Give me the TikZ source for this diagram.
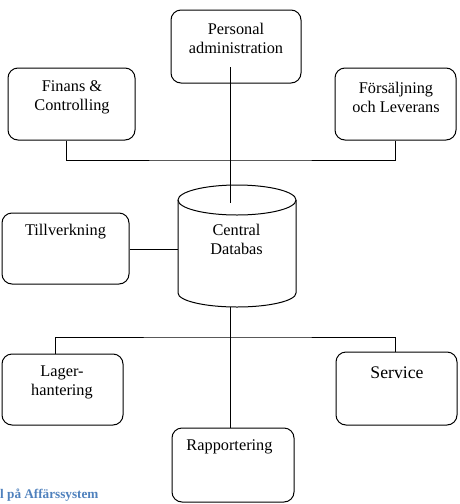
\documentclass[tikz,border=0pt]{standalone}
\usepackage{fontspec}
\setmainfont{Liberation Serif}
\definecolor{capblue}{RGB}{79,129,189}
\begin{document}
\begin{tikzpicture}[x=1pt,y=-1pt,
  box/.style={draw, line width=1pt, rounded corners=10pt, inner sep=0pt},
  lbl/.style={inner sep=0pt, align=center, font=\fontsize{16.3}{19}\selectfont},
  wire/.style={line width=1pt}]
\useasboundingbox (0,0) rectangle (460,504);
% boxes
\node[box, minimum width=130pt, minimum height=73pt] (pers) at (236,46.5) {};
\node[box, minimum width=127pt, minimum height=72pt] (fin) at (71.5,104) {};
\node[box, minimum width=121pt, minimum height=72pt] (fors) at (395.5,104) {};
\node[box, minimum width=127pt, minimum height=71pt] (till) at (65.5,248.5) {};
\node[box, minimum width=121pt, minimum height=71pt] (lager) at (62.5,389.5) {};
\node[box, minimum width=121pt, minimum height=73pt] (serv) at (396.5,388.5) {};
\node[box, minimum width=122pt, minimum height=74pt] (rapp) at (233,465) {};
% labels
\node[lbl] (tpers) at (236,38.5) {Personal\\administration};
\node[lbl] (tfin) at (72,97.5) {Finans \&\\Controlling};
\node[lbl] (tfors) at (396,97.5) {Försäljning\\och Leverans};
\node[lbl] (ttill) at (65.5,232) {Tillverkning};
\node[lbl] (tdb) at (236.5,239) {Central\\Databas};
\node[lbl] (tlager) at (62,382.5) {Lager-\\hantering};
\node[lbl, font=\fontsize{17.7}{21}\selectfont] (tserv) at (397,373) {Service};
\node[lbl] (trapp) at (229.5,447) {Rapportering};
\node[inner sep=0pt, anchor=west, text=capblue, font=\fontsize{13.2}{15}\selectfont\bfseries] (cap) at (0,495) {l på Affärssystem};
% cylinder
\draw[wire] (178,200) arc[start angle=180, end angle=360, x radius=59, y radius=15]
  arc[start angle=0, end angle=180, x radius=59, y radius=15] -- cycle;
\draw[wire] (178,200) -- (178,293) arc[start angle=180, end angle=0, x radius=59, y radius=14] -- (296,200);
\coordinate (dbtop) at (230,203);
\coordinate (dbbot) at (230,307);
\coordinate (dbleft) at (178,249);
\coordinate (pin) at (230,67);
% connectors
\draw[wire] (pin) -- (dbtop);
\draw[wire] (fin.south -| 66,0) |- (230,160) -| (fors.south -| 395,0);
\draw[wire] (till.east |- dbleft) -- (dbleft);
\draw[wire] (dbbot) -- (rapp.north -| dbbot);
\draw[wire] (lager.north -| 55,0) |- (230,337) -| (serv.north -| 395,0);
\end{tikzpicture}
\end{document}
